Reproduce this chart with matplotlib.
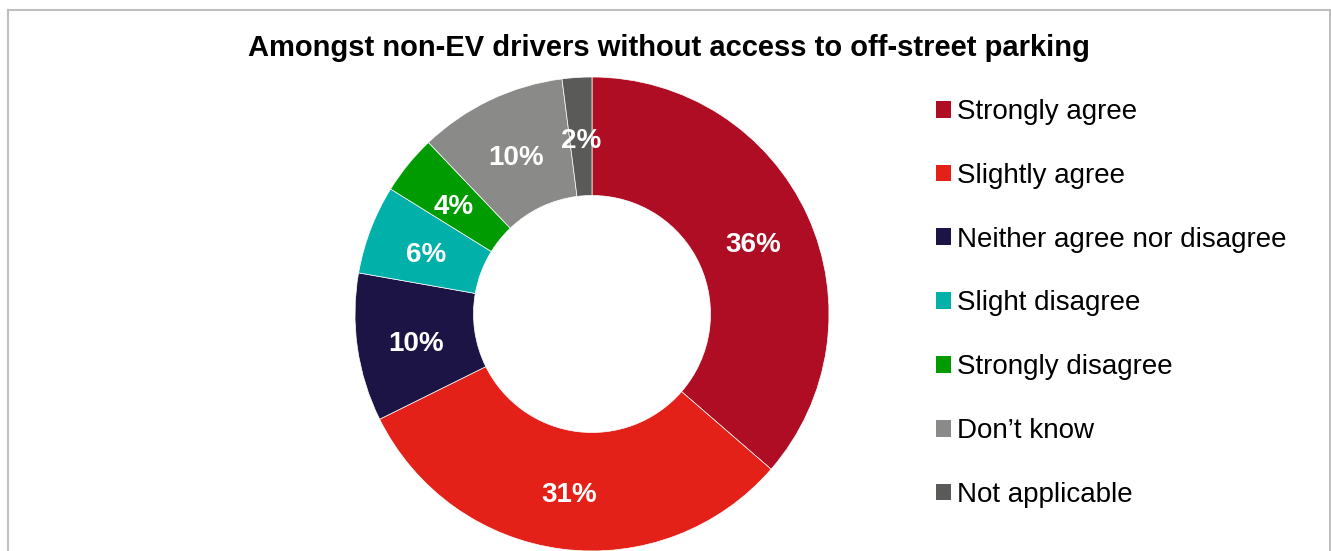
import matplotlib
matplotlib.use("Agg")
import matplotlib.pyplot as plt
from matplotlib.lines import Line2D
from matplotlib.patches import Patch

plt.rcParams['font.family'] = ['Liberation Sans', 'DejaVu Sans']

categories = ["Strongly agree", "Slightly agree", "Neither agree nor disagree",
              "Slight disagree", "Strongly disagree", "Don\u2019t know", "Not applicable"]
values = [36, 31, 10, 6, 4, 10, 2]
colors = ["#ae0d24", "#e32118", "#1d1446", "#00b0a9", "#009b00", "#8a8a89", "#5a5a59"]
title = "Amongst non-EV drivers without access to off-street parking"

W, H, DPI = 1331, 551, 100
fig = plt.figure(figsize=(W / DPI, H / DPI), dpi=DPI)

# donut centred at (592, 314) px with outer radius 237 px
cx, cy, R = 592, 314, 237
ax = fig.add_axes([(cx - R) / W, (H - cy - R) / H, 2 * R / W, 2 * R / H])
wedges, _, autotexts = ax.pie(
    values, colors=colors, startangle=90, counterclock=False,
    wedgeprops=dict(width=0.5, edgecolor="white", linewidth=0.5),
    autopct=lambda p: f"{p:.0f}%", pctdistance=0.75,
    textprops=dict(color="white", fontsize=20, fontweight="bold"))
# nudge value labels slightly down so they sit optically centred in the ring
for t in autotexts:
    x, y = t.get_position()
    t.set_position((x, y - 0.02))
ax.set_xlim(-1, 1)
ax.set_ylim(-1, 1)
ax.set_aspect("equal")
ax.axis("off")

fig.text(669 / W, 1 - 48 / H, title, ha="center", va="center",
         fontsize=21, fontweight="bold", color="black")

handles = [Patch(facecolor=c, edgecolor="none") for c in colors]
fig.legend(handles, categories, loc="upper left",
           bbox_to_anchor=(925 / W, 1 - 88 / H), frameon=False,
           fontsize=20, handlelength=0.55, handleheight=0.55,
           handletextpad=0.22, labelspacing=1.36, borderaxespad=0)

# chart frame (left, top, right edges)
frame_kw = dict(color="#bfbfbf", linewidth=1.5, transform=fig.transFigure)
fig.add_artist(Line2D([7.5 / W, 7.5 / W], [0, 1 - 10 / H], **frame_kw))
fig.add_artist(Line2D([7.5 / W, 1330 / W], [1 - 10 / H, 1 - 10 / H], **frame_kw))
fig.add_artist(Line2D([1330 / W, 1330 / W], [0, 1 - 10 / H], **frame_kw))

fig.savefig("out.png", dpi=DPI)
